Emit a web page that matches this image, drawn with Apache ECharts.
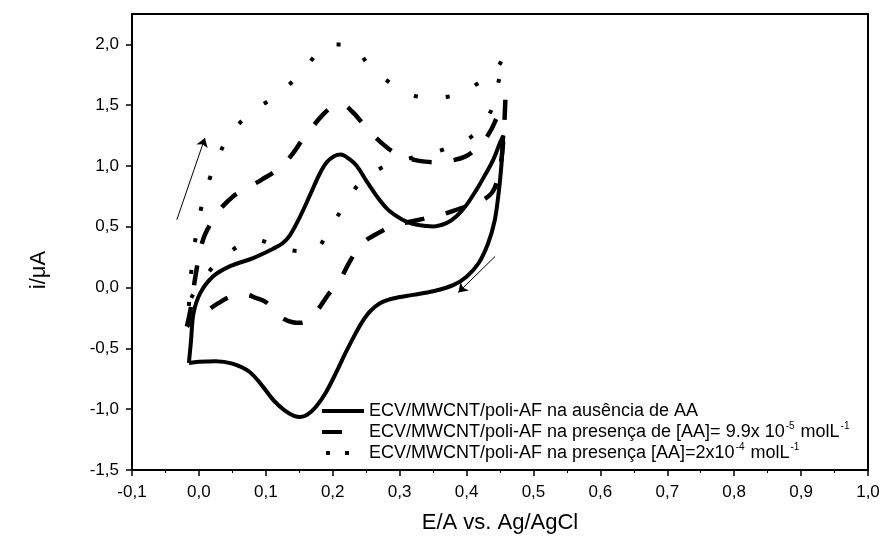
<!DOCTYPE html>
<html>
<head>
<meta charset="utf-8">
<script src="https://cdn.jsdelivr.net/npm/echarts@6/dist/echarts.min.js"></script>
<style>html,body{margin:0;padding:0;background:#fff}#c{width:885px;height:540px}</style>
</head>
<body>
<div id="c"></div>
<script>
// ---- data (E in V, i in uA) ----
const seriesNames = [
  'ECV/MWCNT/poli-AF na ausência de AA',
  'ECV/MWCNT/poli-AF na presença de [AA]= 9.9x 10⁻⁵ molL⁻¹',
  'ECV/MWCNT/poli-AF na presença [AA]=2x10⁻⁴ molL⁻¹'
];
// solid: absence of AA (forward then reverse scan)
const absE = [-0.015,-0.012,-0.008,0.002,0.021,0.046,0.081,0.111,0.125,0.136,0.150,0.166,0.180,0.191,0.202,0.212,0.224,0.236,0.250,0.266,0.281,0.296,0.311,0.326,0.350,0.370,0.385,0.400,0.415,0.428,0.440,0.450,0.455,
              0.452,0.448,0.442,0.432,0.418,0.400,0.380,0.350,0.320,0.290,0.270,0.255,0.242,0.230,0.218,0.205,0.190,0.175,0.162,0.152,0.142,0.128,0.112,0.095,0.075,0.050,0.025,0.000,-0.015];
const absI = [-0.62,-0.45,-0.21,-0.045,0.091,0.174,0.243,0.320,0.365,0.43,0.57,0.76,0.93,1.03,1.08,1.094,1.06,1.00,0.88,0.75,0.65,0.586,0.54,0.517,0.503,0.53,0.586,0.68,0.806,0.93,1.053,1.19,1.25,
              1.00,0.78,0.55,0.36,0.20,0.09,0.02,-0.03,-0.06,-0.09,-0.13,-0.20,-0.30,-0.42,-0.55,-0.70,-0.86,-0.98,-1.045,-1.065,-1.055,-1.01,-0.93,-0.81,-0.69,-0.625,-0.605,-0.61,-0.62];
// dashed: [AA] = 9.9e-5
const aa1E = [-0.018,-0.014,-0.010,-0.006,0.002,0.009,0.020,0.031,0.051,0.072,0.094,0.121,0.140,0.155,0.169,0.185,0.200,0.214,0.229,0.245,0.260,0.275,0.289,0.305,0.322,0.338,0.356,0.378,0.398,0.412,0.425,0.437,0.446,0.453,0.458,
              0.456,0.452,0.446,0.438,0.425,0.410,0.390,0.363,0.335,0.310,0.290,0.275,0.262,0.250,0.238,0.225,0.211,0.193,0.178,0.165,0.152,0.140,0.125,0.110,0.099,0.085,0.072,0.050,0.029,0.010,0.000,-0.011,-0.018];
const aa1I = [-0.32,-0.22,-0.10,0.065,0.31,0.435,0.55,0.64,0.75,0.82,0.888,0.987,1.10,1.22,1.316,1.42,1.49,1.506,1.448,1.35,1.259,1.18,1.12,1.08,1.05,1.036,1.03,1.045,1.077,1.13,1.20,1.30,1.407,1.48,1.547,
              1.30,1.05,0.88,0.78,0.72,0.68,0.65,0.60,0.565,0.535,0.51,0.47,0.43,0.39,0.32,0.21,0.065,-0.06,-0.18,-0.26,-0.29,-0.285,-0.25,-0.17,-0.115,-0.085,-0.06,-0.07,-0.128,-0.20,-0.238,-0.28,-0.32];
// dotted: [AA] = 2e-4
const aa2E = [-0.015,-0.012,-0.008,-0.003,0.004,0.014,0.027,0.045,0.076,0.118,0.154,0.184,0.205,0.225,0.258,0.299,0.340,0.383,0.424,0.445,0.455,
              0.450,0.445,0.435,0.408,0.365,0.320,0.283,0.243,0.218,0.196,0.169,0.126,0.085,0.044,0.009,-0.013];
const aa2I = [-0.15,0.10,0.284,0.476,0.668,0.861,1.053,1.245,1.432,1.588,1.775,1.965,2.00,1.994,1.808,1.638,1.561,1.58,1.706,1.80,1.90,
              1.75,1.63,1.437,1.245,1.135,1.07,1.012,0.874,0.682,0.49,0.297,0.317,0.394,0.284,0.092,-0.10];
// scan-direction arrows [E, i]
const arrowUp = [[-0.033, 0.558], [0.009, 1.231]];
const arrowDown = [[0.4426, 0.256], [0.3877, -0.040]];

const pairs = (e, i) => e.map((v, k) => [v, i[k]]);
const comma = v => v.toFixed(1).replace('.', ',');

const chart = echarts.init(document.getElementById('c'));
const font = 'Arial, "Liberation Sans", sans-serif';
const legendIcons = [
  'path://M0,0H42V4H0Z',
  'path://M0,0H20V4H0ZM42,0M42,4',
  'path://M0,0M42,4M4,0H8V4H4ZM23,0H27V4H23Z'
];
chart.setOption({
  animation: false,
  backgroundColor: '#fff',
  grid: { left: 132, right: 17, top: 14, bottom: 70, show: true, borderColor: '#000', borderWidth: 2, backgroundColor: 'transparent' },
  legend: {
    orient: 'vertical', left: 317, top: 397, itemGap: 1, itemWidth: 42, itemHeight: 4,
    data: seriesNames.map((n, k) => ({ name: n, icon: legendIcons[k] })),
    formatter: function (name) {
      const parts = name.split(/(⁻[⁰¹²³⁴⁵⁶⁷⁸⁹]+)/);
      const map = {'⁻':'-','⁰':'0','¹':'1','²':'2','³':'3','⁴':'4','⁵':'5','⁶':'6','⁷':'7','⁸':'8','⁹':'9'};
      return parts.filter(p => p.length).map(p => p[0] === '⁻'
        ? '{s|' + p.split('').map(c => map[c]).join('') + '}'
        : '{n|' + p + '}').join('');
    },
    textStyle: {
      color: '#000', fontFamily: font,
      rich: {
        n: { fontSize: 18, fontFamily: font, color: '#000', lineHeight: 22 },
        s: { fontSize: 10, fontFamily: font, color: '#000', lineHeight: 18, verticalAlign: 'top', padding: [0, 1, 0, 1] }
      }
    },
    inactiveColor: '#000', selectedMode: false
  },
  xAxis: {
    type: 'value', min: -0.1, max: 1.0, interval: 0.1,
    name: 'E/A vs. Ag/AgCl', nameLocation: 'middle', nameGap: 42,
    nameTextStyle: { fontSize: 22, fontFamily: font, color: '#000' },
    axisLine: { onZero: false, lineStyle: { color: '#000', width: 2 } },
    axisTick: { show: true, inside: false, length: 6, lineStyle: { color: '#000', width: 1.5 } },
    minorTick: { show: true, splitNumber: 2, length: 3, lineStyle: { color: '#000', width: 1 } },
    axisLabel: { formatter: comma, fontSize: 17, fontFamily: font, color: '#000', margin: 14 },
    splitLine: { show: false }
  },
  yAxis: {
    type: 'value', min: -1.5, max: 2.25, interval: 0.5,
    name: 'i/μA', nameLocation: 'middle', nameGap: 82, nameRotate: 90,
    nameTextStyle: { fontSize: 22, fontFamily: font, color: '#000', padding: [0, 56, 0, 0] },
    axisLine: { onZero: false, lineStyle: { color: '#000', width: 2 } },
    axisTick: { show: true, inside: false, length: 6, lineStyle: { color: '#000', width: 1.5 } },
    axisLabel: {
      formatter: v => (Math.abs(v * 2 - Math.round(v * 2)) < 1e-6 ? comma(v) : ''),
      showMaxLabel: false, fontSize: 17, fontFamily: font, color: '#000', margin: 13
    },
    splitLine: { show: false }
  },
  series: [
    {
      name: seriesNames[0], type: 'line', data: pairs(absE, absI), smooth: 0.35, showSymbol: false, symbol: 'none',
      color: '#000', lineStyle: { color: '#000', width: 4, type: 'solid' }, z: 3,
      markLine: {
        silent: true, symbol: ['none', 'arrow'], symbolSize: 9, label: { show: false },
        lineStyle: { color: '#000', width: 1, type: 'solid', curveness: 0.12 },
        data: [
          [{ coord: arrowUp[0] }, { coord: arrowUp[1] }],
          [{ coord: arrowDown[0] }, { coord: arrowDown[1] }]
        ]
      }
    },
    {
      name: seriesNames[1], type: 'line', data: pairs(aa1E, aa1I), smooth: 0.35, showSymbol: false, symbol: 'none',
      color: '#000', lineStyle: { color: '#000', width: 4.5, type: [20, 22], cap: 'butt' }, z: 2
    },
    {
      name: seriesNames[2], type: 'line', data: pairs(aa2E, aa2I), smooth: 0.35, showSymbol: false, symbol: 'none',
      color: '#000', lineStyle: { color: '#000', width: 4, type: [4, 28], cap: 'butt' }, z: 2
    }
  ]
});
</script>
</body>
</html>
